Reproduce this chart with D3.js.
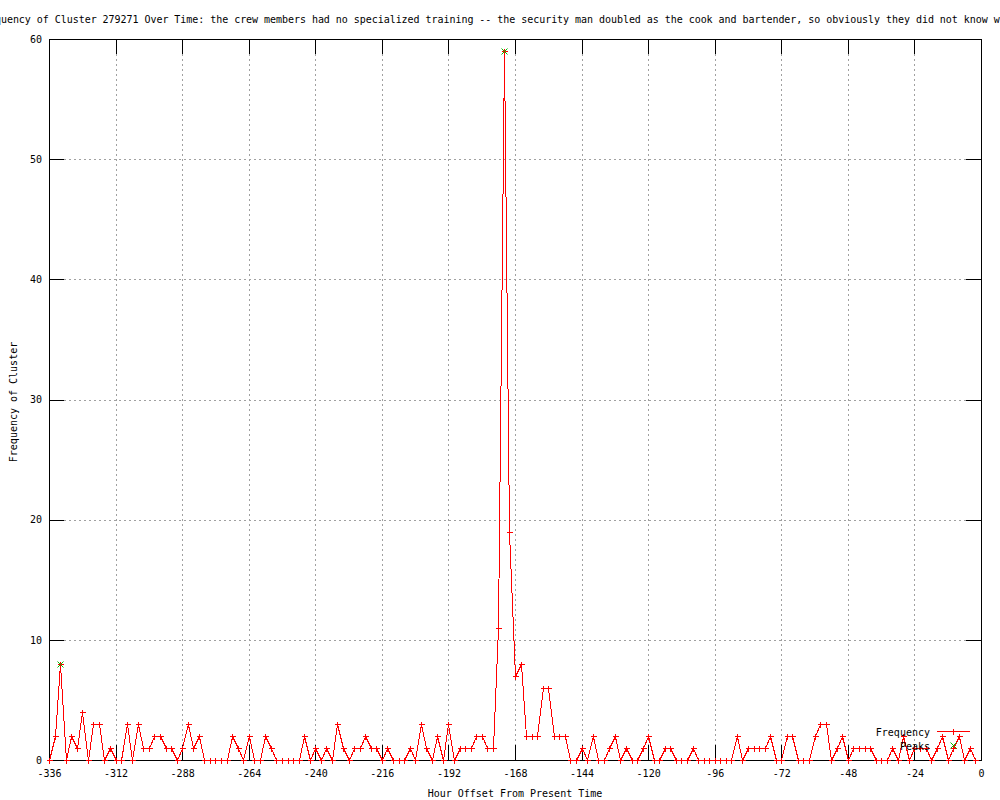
<!DOCTYPE html>
<html>
<head>
<meta charset="utf-8">
<script src="https://cdn.jsdelivr.net/npm/d3@7"></script>
<style>
  body { margin: 0; background: #fff; }
  svg { display: block; }
  text { font-family: "DejaVu Sans Mono", monospace; font-size: 10px; fill: #000; }
</style>
</head>
<body>
<div id="chart"></div>
<script>
// hour offsets start at -336 and step by 2 hours
var startHour = -336;
var stepHours = 2;
var frequency = [
  0, 2, 8, 0, 2, 1, 4, 0, 3, 3, 0, 1,      // -336 .. -314
  0, 0, 3, 0, 3, 1, 1, 2, 2, 1, 1, 0,      // -312 .. -290
  1, 3, 1, 2, 0, 0, 0, 0, 0, 2, 1, 0,      // -288 .. -266
  2, 0, 0, 2, 1, 0, 0, 0, 0, 0, 2, 0,      // -264 .. -242
  1, 0, 1, 0, 3, 1, 0, 1, 1, 2, 1, 1,      // -240 .. -218
  0, 1, 0, 0, 0, 1, 0, 3, 1, 0, 2, 0,      // -216 .. -194
  3, 0, 1, 1, 1, 2, 2, 1, 1, 11, 59, 19,   // -192 .. -170
  7, 8, 2, 2, 2, 6, 6, 2, 2, 2, 0, 0,      // -168 .. -146
  1, 0, 2, 0, 0, 1, 2, 0, 1, 0, 0, 1,      // -144 .. -122
  2, 0, 0, 1, 1, 0, 0, 0, 1, 0, 0, 0,      // -120 .. -98
  0, 0, 0, 0, 2, 0, 1, 1, 1, 1, 2, 0,      // -96 .. -74
  0, 2, 2, 0, 0, 0, 2, 3, 3, 0, 1, 2,      // -72 .. -50
  0, 1, 1, 1, 1, 0, 0, 0, 1, 0, 2, 0,      // -48 .. -26
  1, 1, 1, 0, 1, 2, 0, 1, 2, 0, 1, 0       // -24 .. -2
];
var peakHours = [-332, -172];
var peakValues = [8, 59];

var xTicks = [-336, -312, -288, -264, -240, -216, -192, -168, -144, -120, -96, -72, -48, -24, 0];
var yTicks = [0, 10, 20, 30, 40, 50, 60];

var titleText = "Frequency of Cluster 279271 Over Time: the crew members had no specialized training -- the security man doubled as the cook and bartender, so obviously they did not know what they were doing";

var W = 1000, H = 800;
var plotLeft = 49, plotRight = 981, plotTop = 39, plotBottom = 760;
var tick = 15;

var points = frequency.map(function (v, i) {
  return { hour: startHour + i * stepHours, value: v };
});
var peaks = peakHours.map(function (h, i) {
  return { hour: h, value: peakValues[i] };
});

var svg = d3.select("#chart")
  .append("svg")
  .attr("width", W)
  .attr("height", H);

var x = d3.scaleLinear().domain([-336, 0]).range([plotLeft, plotRight]);
var y = d3.scaleLinear().domain([0, 60]).range([plotBottom, plotTop]);

function px(v) { return Math.round(v) + 0.5; }

// grid
svg.append("g")
  .attr("transform", "translate(0," + plotTop + ")")
  .call(d3.axisBottom(x).tickValues(xTicks.slice(1, -1)).tickSize(plotBottom - plotTop).tickFormat(""))
  .call(function (g) { g.select(".domain").remove(); })
  .selectAll("line")
  .attr("stroke", "#a0a0a0")
  .attr("stroke-dasharray", "2,3")
  .attr("shape-rendering", "crispEdges");

svg.append("g")
  .attr("transform", "translate(" + plotLeft + ",0)")
  .call(d3.axisRight(y).tickValues(yTicks.slice(1, -1)).tickSize(plotRight - plotLeft).tickFormat(""))
  .call(function (g) { g.select(".domain").remove(); })
  .selectAll("line")
  .attr("stroke", "#a0a0a0")
  .attr("stroke-dasharray", "2,3")
  .attr("shape-rendering", "crispEdges");

// axes with inward ticks
var axes = [
  svg.append("g").attr("transform", "translate(0," + plotBottom + ")")
    .call(d3.axisBottom(x).tickValues(xTicks).tickSizeInner(-tick).tickSizeOuter(0).tickPadding(10)),
  svg.append("g").attr("transform", "translate(0," + plotTop + ")")
    .call(d3.axisTop(x).tickValues(xTicks).tickSizeInner(-tick).tickSizeOuter(0).tickFormat("")),
  svg.append("g").attr("transform", "translate(" + plotLeft + ",0)")
    .call(d3.axisLeft(y).tickValues(yTicks).tickSizeInner(-tick).tickSizeOuter(0).tickPadding(7)),
  svg.append("g").attr("transform", "translate(" + plotRight + ",0)")
    .call(d3.axisRight(y).tickValues(yTicks).tickSizeInner(-tick).tickSizeOuter(0).tickFormat(""))
];
axes.forEach(function (g) {
  g.select(".domain").remove();
  g.selectAll("line").attr("shape-rendering", "crispEdges");
  g.selectAll("text")
    .style("font-family", "DejaVu Sans Mono")
    .style("font-size", "10px")
    .text(function () { return d3.select(this).text().replace("\u2212", "-"); });
});

// border
svg.append("rect")
  .attr("x", px(plotLeft))
  .attr("y", px(plotTop))
  .attr("width", plotRight - plotLeft)
  .attr("height", plotBottom - plotTop)
  .attr("fill", "none")
  .attr("stroke", "#000")
  .attr("shape-rendering", "crispEdges");

// frequency line
svg.append("path")
  .datum(points)
  .attr("fill", "none")
  .attr("stroke", "#ff0000")
  .attr("stroke-width", 1)
  .attr("shape-rendering", "crispEdges")
  .attr("d", d3.line()
    .x(function (d) { return px(x(d.hour)); })
    .y(function (d) { return px(y(d.value)); }));

function plus(cx, cy, r) {
  return "M" + (cx - r) + "," + cy + "h" + (2 * r) + "M" + cx + "," + (cy - r) + "v" + (2 * r);
}
function cross(cx, cy, r) {
  return "M" + (cx - r) + "," + (cy - r) + "L" + (cx + r) + "," + (cy + r) +
    "M" + (cx - r) + "," + (cy + r) + "L" + (cx + r) + "," + (cy - r);
}

svg.append("g")
  .selectAll("path")
  .data(points)
  .join("path")
  .attr("fill", "none")
  .attr("stroke", "#ff0000")
  .attr("shape-rendering", "crispEdges")
  .attr("d", function (d) { return plus(px(x(d.hour)), px(y(d.value)), 3); });

svg.append("g")
  .selectAll("path")
  .data(peaks)
  .join("path")
  .attr("fill", "none")
  .attr("stroke", "#00c000")
  .attr("d", function (d) { return cross(px(x(d.hour)), px(y(d.value)), 3); });

// key
var keyX = 930, keyY = 732;
svg.append("text").attr("x", keyX).attr("y", keyY + 4).attr("text-anchor", "end").text("Frequency");
svg.append("line")
  .attr("x1", 937).attr("x2", 970).attr("y1", keyY - 0.5).attr("y2", keyY - 0.5)
  .attr("stroke", "#ff0000").attr("shape-rendering", "crispEdges");
svg.append("path")
  .attr("stroke", "#ff0000").attr("fill", "none").attr("shape-rendering", "crispEdges")
  .attr("d", plus(953.5, keyY - 0.5, 3));
svg.append("text").attr("x", keyX).attr("y", keyY + 18).attr("text-anchor", "end").text("Peaks");
svg.append("path")
  .attr("stroke", "#00c000").attr("fill", "none")
  .attr("d", cross(953.5, keyY + 13.5, 3));

// titles
svg.append("text")
  .attr("x", -23)
  .attr("y", 23)
  .style("letter-spacing", "-0.04px")
  .text(titleText);

svg.append("text")
  .attr("x", 515)
  .attr("y", 797)
  .attr("text-anchor", "middle")
  .text("Hour Offset From Present Time");

svg.append("text")
  .attr("transform", "translate(17,402) rotate(-90)")
  .attr("text-anchor", "middle")
  .text("Frequency of Cluster");
</script>
</body>
</html>
